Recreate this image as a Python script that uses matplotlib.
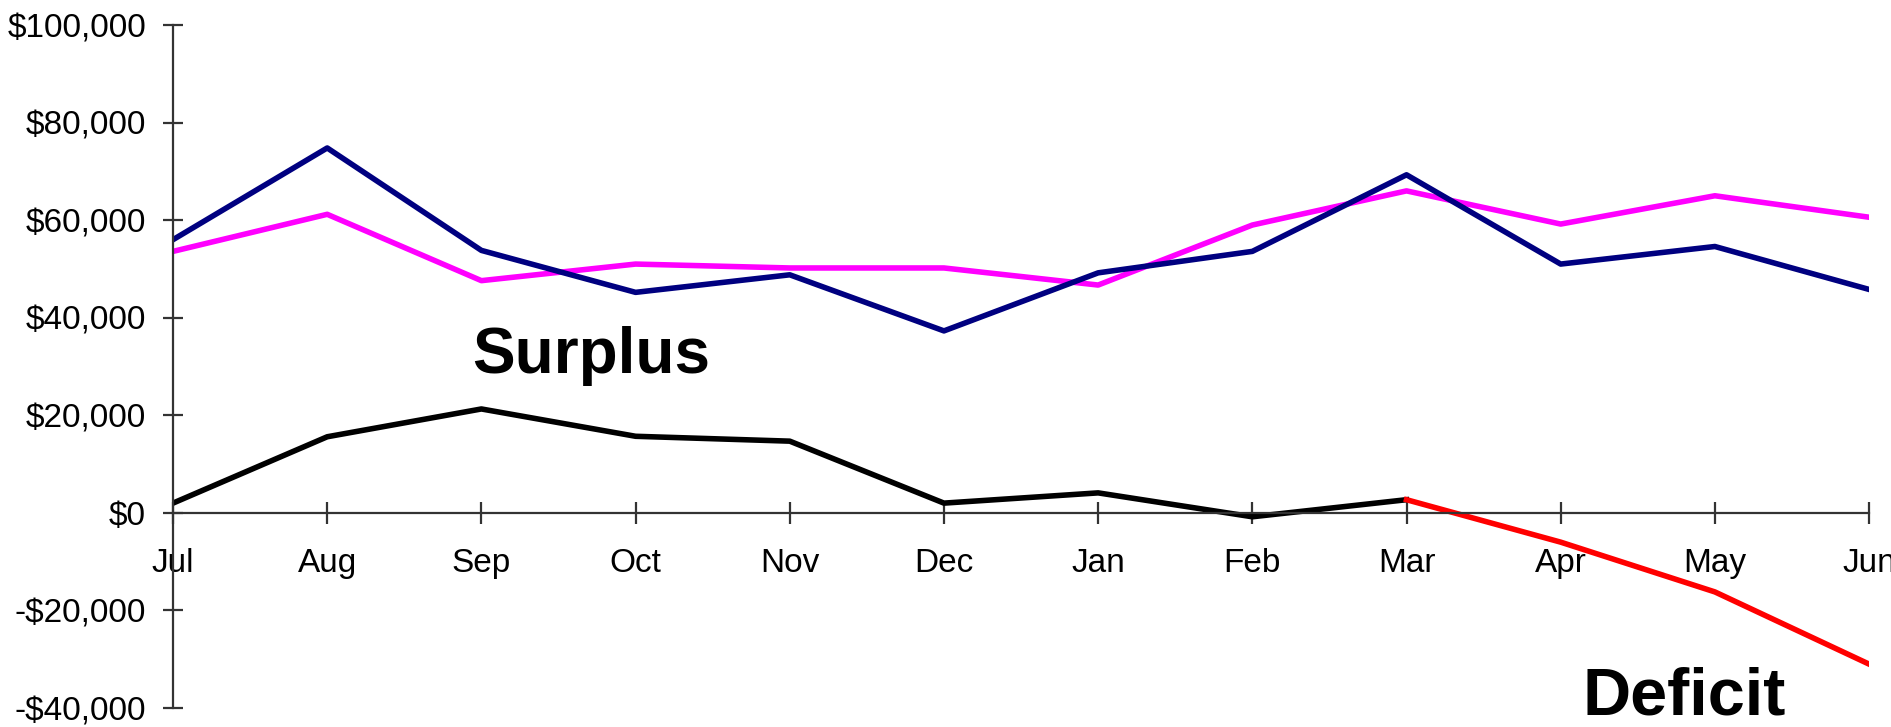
import numpy as np
import matplotlib
matplotlib.use("Agg")
import matplotlib.pyplot as plt
from matplotlib.ticker import FuncFormatter

plt.rcParams['font.family'] = ['Liberation Sans', 'DejaVu Sans']

# months on the x axis
months = ["Jul", "Aug", "Sep", "Oct", "Nov", "Dec", "Jan", "Feb", "Mar", "Apr", "May", "Jun"]

# (dollars)
navy_vals = [56000, 74800, 53800, 45200, 48800, 37300, 49200, 53600, 69300, 51000, 54600, 45800]
magenta_vals = [53600, 61200, 47600, 51000, 50200, 50200, 46700, 59000, 66000, 59200, 65000, 60600]
surplus_vals = [2000, 15600, 21300, 15700, 14700, 2000, 4100, -800, 2700]   # Jul..Mar
deficit_vals = [2700, -6000, -16200, -31000]                                 # Mar..Jun

x = np.arange(len(months))

fig = plt.figure(figsize=(18.91, 7.27), dpi=100)
ax = fig.add_axes([0.0915, 0.0261, 0.8969, 0.9395])

ax.plot(x, magenta_vals, color="#FF00FF", lw=4)
ax.plot(x, navy_vals, color="#000080", lw=4)
ax.plot(x[:9], surplus_vals, color="black", lw=4)
ax.plot(x[8:], deficit_vals, color="#FF0000", lw=4)

ax.set_xlim(0, 11)
ax.set_ylim(-40000, 100000)

# axes crossing at zero, like the spreadsheet chart
for s in ["top", "right"]:
    ax.spines[s].set_visible(False)
ax.spines["bottom"].set_position(("data", 0))
ax.spines["left"].set_color("#333333")
ax.spines["bottom"].set_color("#333333")
ax.spines["left"].set_linewidth(1.6)
ax.spines["bottom"].set_linewidth(1.6)

ax.set_xticks(x)
ax.set_xticklabels(months)
ax.set_yticks(np.arange(-40000, 100001, 20000))


def money(v, pos):
    if v < 0:
        return "-${:,.0f}".format(-v)
    return "${:,.0f}".format(v)


ax.yaxis.set_major_formatter(FuncFormatter(money))
ax.tick_params(axis="x", direction="inout", length=16, width=1.6, color="#333333",
               labelsize=24, pad=17)
ax.tick_params(axis="y", direction="inout", length=15, width=1.6, color="#333333",
               labelsize=24, pad=12)

ax.text(2.71, 28600, "Surplus", fontsize=46, fontweight="bold", ha="center", va="baseline")
ax.text(9.80, -41300, "Deficit", fontsize=48, fontweight="bold", ha="center", va="baseline",
        clip_on=False)

fig.savefig("out.png", dpi=100)
